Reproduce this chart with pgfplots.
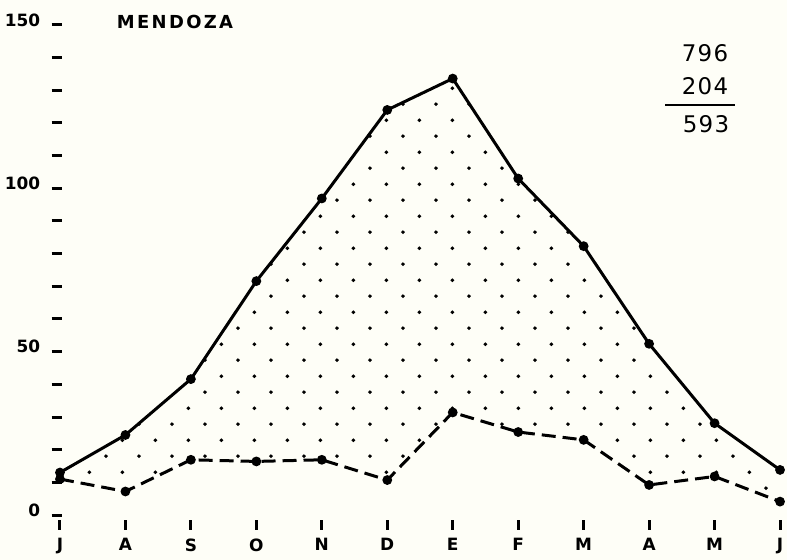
\documentclass[border=0pt]{standalone}
\usepackage{fontspec}
\setmainfont{DejaVu Sans}
\newfontfamily\lab{DejaVu Sans}[LetterSpace=13]
\newfontfamily\num{DejaVu Sans}[LetterSpace=6]
\usepackage{xcolor}
\usepackage{pgfplots}
\usepackage{pgfplotstable}
\pgfplotsset{compat=1.18}
\usepgfplotslibrary{fillbetween}
\usetikzlibrary{patterns}
\pgfdeclarepatternformonly{sparsedots}{\pgfqpoint{0pt}{0pt}}{\pgfqpoint{33pt}{32.5pt}}{\pgfqpoint{33pt}{32.5pt}}{%
  \pgfpathcircle{\pgfqpoint{8pt}{8pt}}{2pt}%
  \pgfpathcircle{\pgfqpoint{24.5pt}{24.25pt}}{2pt}%
  \pgfusepath{fill}}
\definecolor{paper}{RGB}{254,254,247}
\pagecolor{paper}
\pgfplotstableread{
x up lo
0 13.0 11.0
1 24.5 7.2
2 41.6 16.9
3 71.6 16.4
4 96.9 16.9
5 124.0 10.7
6 133.6 31.4
7 103.0 25.4
8 82.3 23.0
9 52.4 9.2
10 28.1 11.8
11 13.8 4.1
}\data
\begin{document}
\begin{tikzpicture}
\path (0,0) rectangle (787bp,560bp);
\begin{axis}[
  at={(56.7bp,35bp)}, anchor=south west,
  scale only axis, width=726.6bp, height=500bp,
  xmin=-0.05, xmax=11.05, ymin=-3.06, ymax=150,
  axis line style={draw=none},
  xtick={0,...,11}, xticklabels={J,A,S,O,N,D,E,F,M,A,M,J},
  ytick={0,10,...,150}, yticklabels={0,,,,,50,,,,,100,,,,,150},
  xtick pos=bottom, ytick pos=left,
  tick align=center, major tick length=10bp,
  every tick/.style={draw=black, line width=3bp},
  /pgf/number format/assume math mode=true,
  xticklabel style={font=\bfseries\fontsize{17}{17}\selectfont, yshift=-5bp},
  yticklabel style={font=\bfseries\fontsize{17}{17}\selectfont, yshift=5bp, xshift=-8bp},
  clip=false,
]
\addplot[name path=up, line width=3bp, mark=*, mark size=3.3bp] table[x=x,y=up]{\data};
\addplot[name path=lo, line width=3bp, dash pattern=on 14bp off 7bp, mark=*, mark size=3.3bp, mark options={solid}] table[x=x,y=lo]{\data};
\addplot[draw=none, pattern=sparsedots, pattern color=black] fill between[of=up and lo];
\end{axis}
\node[font=\lab\bfseries\fontsize{18}{18}\selectfont] at (175bp,538.5bp) {MENDOZA};
\node[font=\num\fontsize{23}{23}\selectfont] at (705bp,507bp) {796};
\node[font=\num\fontsize{23}{23}\selectfont] at (705bp,473.5bp) {204};
\draw[line width=1.5bp] (665bp,455bp) -- (735bp,455bp);
\node[font=\num\fontsize{23}{23}\selectfont] at (706bp,436bp) {593};
\pgfresetboundingbox
\path[use as bounding box] (0,0) rectangle (787bp,560bp);
\end{tikzpicture}
\end{document}
